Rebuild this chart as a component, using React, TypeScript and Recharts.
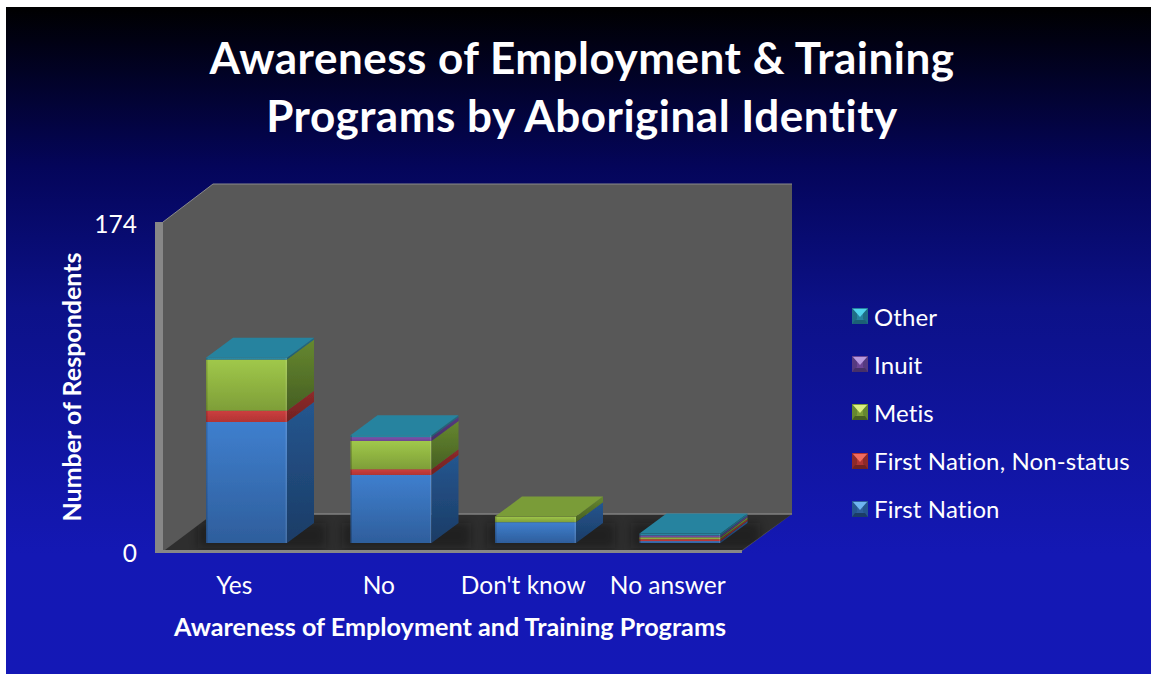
import React from 'react';
import { BarChart, Bar, XAxis, YAxis, Legend } from 'recharts';

const categories = ['Yes', 'No', "Don't know", 'No answer'];
const firstNation = [64, 36, 11, 1];
const nonStatus = [6, 3, 0, 1];
const metis = [27, 15, 3, 1];
const inuit = [0, 2, 0, 1];
const other = [1, 1, 0, 1];
const yTicks = [0, 174];

const seriesKeys = ['firstNation', 'nonStatus', 'metis', 'inuit', 'other'];
const seriesNames = ['First Nation', 'First Nation, Non-status', 'Metis', 'Inuit', 'Other'];

// front top, front bottom, side top, side bottom, top face, legend highlight
const palette = [
  ['#3f7fce', '#2e5e9c', '#25568f', '#1b3c66', '#2f65a8', '#6fb4f0'],
  ['#cc3f3f', '#b23434', '#8f2a2a', '#6f2222', '#a83232', '#f06a60'],
  ['#a0c84a', '#7e9e38', '#668830', '#465f22', '#7a9c38', '#dcee80'],
  ['#7e52ad', '#6c4596', '#563a80', '#453068', '#6a4a96', '#b89ae0'],
  ['#2a8ba8', '#26839f', '#1f6d85', '#1b5f75', '#26839f', '#50d4ec'],
];

const data = categories.map((name, i) => ({
  name,
  firstNation: firstNation[i],
  nonStatus: nonStatus[i],
  metis: metis[i],
  inuit: inuit[i],
  other: other[i],
}));

const W = 1151;
const H = 674;
// bars stand a little inside the floor
const SHIFT_X = 12;
const SHIFT_Y = 8;
const DEPTH_X = 27;
const DEPTH_Y = 20;

const textFont = 'Lato, sans-serif';
const noLigatures = { fontVariantLigatures: 'none' } as React.CSSProperties;

const topKeyOf = (row: any) => {
  let key = seriesKeys[0];
  seriesKeys.forEach(k => {
    if (row[k] > 0) key = k;
  });
  return key;
};

const makeShape = (idx: number) => (props: any) => {
  const { x, y, width, height, payload } = props;
  if (!height || height <= 0) return null;
  const left = x + SHIFT_X;
  const topY = y - SHIFT_Y;
  const right = left + width;
  const bottom = topY + height;
  const isTop = topKeyOf(payload) === seriesKeys[idx];
  return (
    <g>
      {idx === 0 && (
        <g clipPath="url(#floorClip)">
          <rect
            x={left - 8}
            y={bottom - DEPTH_Y}
            width={width + DEPTH_X + 20}
            height={DEPTH_Y + 5}
            fill="#111"
            opacity={0.4}
            filter="url(#shadowBlur)"
          />
        </g>
      )}
      <g filter="url(#softEdge)">
        <rect x={left} y={topY} width={width} height={height} fill={`url(#front${idx})`} />
        <rect x={left} y={topY} width={1.5} height={height} fill="#000" opacity={0.18} />
        <rect x={right - 1.5} y={topY} width={1.5} height={height} fill="#fff" opacity={0.12} />
        <polygon
          points={`${right},${topY} ${right + DEPTH_X},${topY - DEPTH_Y} ${right + DEPTH_X},${bottom - DEPTH_Y} ${right},${bottom}`}
          fill={`url(#side${idx})`}
        />
        {isTop && (
          <polygon
            points={`${left},${topY} ${left + DEPTH_X},${topY - DEPTH_Y} ${right + DEPTH_X},${topY - DEPTH_Y} ${right},${topY}`}
            fill={palette[idx][4]}
          />
        )}
      </g>
    </g>
  );
};

const LegendIcon = ({ idx }: { idx: number }) => {
  const c = palette[idx];
  return (
    <svg width={16} height={16} style={{ display: 'block' }}>
      <rect width={16} height={16} fill={c[1]} />
      <polygon points="0,0 5,5 5,11 0,16" fill={c[2]} />
      <polygon points="16,0 11,5 11,11 16,16" fill={c[2]} />
      <polygon points="1,1 15,1 8,9" fill={c[5]} />
      <polygon points="0,16 3,12 13,12 16,16" fill={c[3]} />
    </svg>
  );
};

const LegendBox = () => (
  <div style={{ fontFamily: textFont, fontSize: 24, letterSpacing: 0.12, color: '#fff', ...noLigatures }}>
    {seriesNames
      .map((name, idx) => ({ name, idx }))
      .reverse()
      .map(({ name, idx }) => (
        <div key={name} style={{ display: 'flex', alignItems: 'center', height: 48.2 }}>
          <LegendIcon idx={idx} />
          <span style={{ marginLeft: 6, whiteSpace: 'nowrap' }}>{name}</span>
        </div>
      ))}
  </div>
);

export default function App() {
  return (
    <div style={{ position: 'absolute', left: 0, top: 0, width: W, height: H, background: '#fff', overflow: 'hidden' }}>
      <style>{'body{margin:0}'}</style>
      <div
        style={{
          position: 'absolute',
          left: 6,
          top: 7,
          width: W - 6,
          height: H - 7,
          background: 'linear-gradient(180deg, #000000 0%, #04055a 24%, #0c1188 45%, #1418b4 82%, #1418b6 100%)',
        }}
      />
      <div style={{ position: 'absolute', left: 0, top: 0 }}>
        <BarChart
          width={W}
          height={H}
          data={data}
          barSize={81}
          margin={{ top: 222, right: 411, bottom: 0, left: 62 }}
        >
          <defs>
            <filter id="softEdge" filterUnits="userSpaceOnUse" x="0" y="0" width={W} height={H}>
              <feGaussianBlur stdDeviation="0.5" />
            </filter>
            <filter id="shadowBlur" filterUnits="userSpaceOnUse" x="0" y="0" width={W} height={H}>
              <feGaussianBlur stdDeviation="5" />
            </filter>
            <clipPath id="floorClip">
              <polygon points="165,550 213,514 792,514 742,550" />
            </clipPath>
            {palette.map((c, i) => (
              <React.Fragment key={i}>
                <linearGradient id={`front${i}`} x1="0" y1="0" x2="0" y2="1">
                  <stop offset="0%" stopColor={c[0]} />
                  <stop offset="100%" stopColor={c[1]} />
                </linearGradient>
                <linearGradient id={`side${i}`} x1="0" y1="0" x2="0" y2="1">
                  <stop offset="0%" stopColor={c[2]} />
                  <stop offset="100%" stopColor={c[3]} />
                </linearGradient>
              </React.Fragment>
            ))}
          </defs>

          {/* room behind the bars */}
          <polygon points="163,222 213,184 792,184 792,514 742,551 163,551" fill="#585858" />
          <polygon points="165,550 213,514 792,514 742,550" fill="#2e2e2e" />
          <polyline points="163,222 213,184 792,184" fill="none" stroke="#8a8a8a" strokeWidth={1} />
          <line x1={207} y1={514} x2={792} y2={514} stroke="#808080" strokeWidth={1.5} />
          <rect x={155} y={222} width={8} height={329} fill="#878787" />
          <rect x={155} y={550} width={587} height={3} fill="#878787" />

          <text
            textAnchor="middle"
            fill="#fff"
            fontFamily={textFont}
            fontWeight={700}
            fontSize={44}
            letterSpacing={0.5}
            style={noLigatures}
          >
            <tspan x={582} y={74}>Awareness of Employment &amp; Training</tspan>
            <tspan x={582} y={132}>Programs by Aboriginal Identity</tspan>
          </text>

          <XAxis
            dataKey="name"
            height={123}
            axisLine={false}
            tickLine={false}
            tickMargin={20}
            tick={{ fill: '#fff', fontSize: 24.5, fontFamily: textFont, style: noLigatures }}
            label={{
              value: 'Awareness of Employment and Training Programs',
              position: 'insideBottom',
              offset: 38,
              dx: -1,
              fill: '#fff',
              fontSize: 25.2,
              fontWeight: 700,
              fontFamily: textFont,
              style: noLigatures,
            }}
          />
          <YAxis
            width={100}
            domain={[0, 174]}
            ticks={yTicks}
            axisLine={false}
            tickLine={false}
            tickMargin={19}
            dy={2}
            tick={{ fill: '#fff', fontSize: 24.5, fontFamily: textFont, style: noLigatures }}
            label={{
              value: 'Number of Respondents',
              angle: -90,
              position: 'insideLeft',
              offset: 10,
              dy: 135,
              fill: '#fff',
              fontSize: 25,
              fontWeight: 700,
              fontFamily: textFont,
              style: noLigatures,
            }}
          />
          <Legend
            layout="vertical"
            align="center"
            verticalAlign="middle"
            content={<LegendBox />}
            wrapperStyle={{ left: 852, top: 292, width: 295 }}
          />
          {seriesKeys.map((key, i) => (
            <Bar
              key={key}
              dataKey={key}
              name={seriesNames[i]}
              stackId="a"
              fill={palette[i][0]}
              shape={makeShape(i)}
              isAnimationActive={false}
            />
          ))}
        </BarChart>
      </div>
    </div>
  );
}
